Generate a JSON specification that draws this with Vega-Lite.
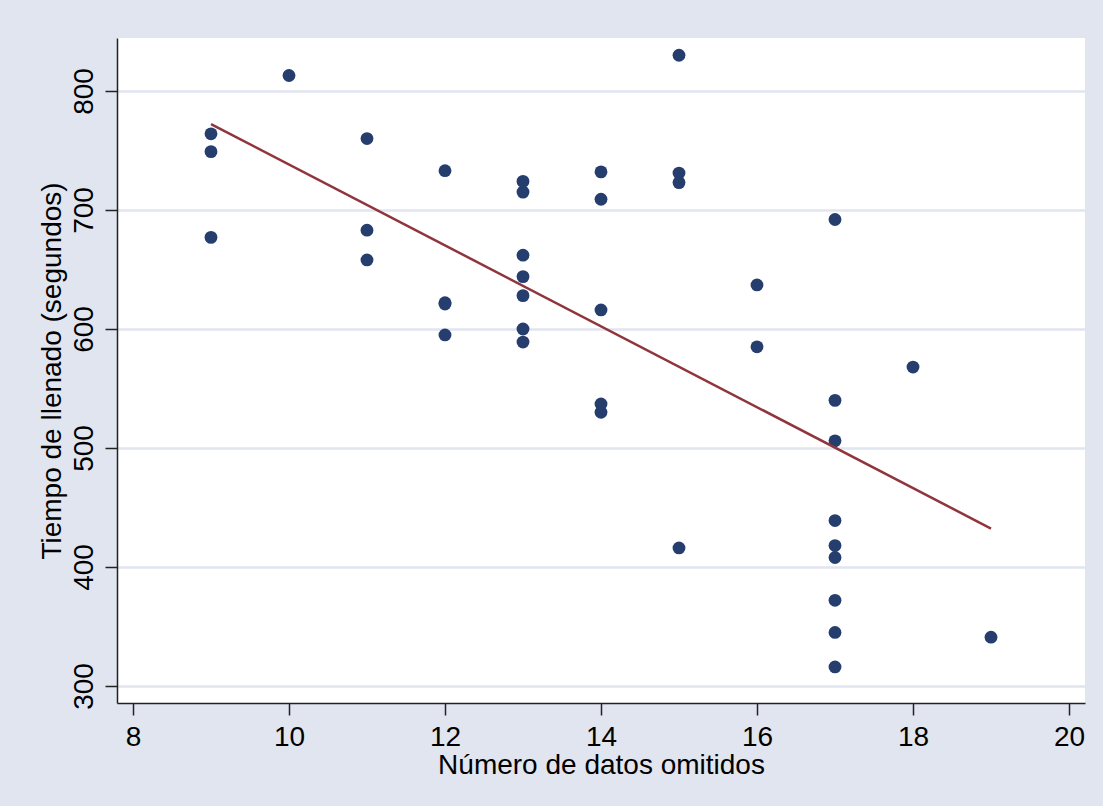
{
  "$schema": "https://vega.github.io/schema/vega-lite/v6.json",
  "width": 968,
  "height": 665,
  "autosize": {"type": "none"},
  "padding": {"left": 117, "top": 38, "right": 18, "bottom": 103},
  "background": "#e1e5ef",
  "view": {"fill": "white", "stroke": null},
  "datasets": {
    "puntos": [
      {"omitidos": 9, "tiempo": 764}, {"omitidos": 9, "tiempo": 749}, {"omitidos": 9, "tiempo": 677},
      {"omitidos": 10, "tiempo": 813},
      {"omitidos": 11, "tiempo": 760}, {"omitidos": 11, "tiempo": 683}, {"omitidos": 11, "tiempo": 658},
      {"omitidos": 12, "tiempo": 733}, {"omitidos": 12, "tiempo": 622}, {"omitidos": 12, "tiempo": 621}, {"omitidos": 12, "tiempo": 595},
      {"omitidos": 13, "tiempo": 724}, {"omitidos": 13, "tiempo": 715}, {"omitidos": 13, "tiempo": 662}, {"omitidos": 13, "tiempo": 644}, {"omitidos": 13, "tiempo": 628}, {"omitidos": 13, "tiempo": 600}, {"omitidos": 13, "tiempo": 589},
      {"omitidos": 14, "tiempo": 732}, {"omitidos": 14, "tiempo": 709}, {"omitidos": 14, "tiempo": 616}, {"omitidos": 14, "tiempo": 537}, {"omitidos": 14, "tiempo": 530},
      {"omitidos": 15, "tiempo": 830}, {"omitidos": 15, "tiempo": 731}, {"omitidos": 15, "tiempo": 723}, {"omitidos": 15, "tiempo": 416},
      {"omitidos": 16, "tiempo": 637}, {"omitidos": 16, "tiempo": 585},
      {"omitidos": 17, "tiempo": 692}, {"omitidos": 17, "tiempo": 540}, {"omitidos": 17, "tiempo": 506}, {"omitidos": 17, "tiempo": 439}, {"omitidos": 17, "tiempo": 418}, {"omitidos": 17, "tiempo": 408}, {"omitidos": 17, "tiempo": 372}, {"omitidos": 17, "tiempo": 345}, {"omitidos": 17, "tiempo": 316},
      {"omitidos": 18, "tiempo": 568},
      {"omitidos": 19, "tiempo": 341}
    ],
    "ajuste": [
      {"omitidos": 9, "tiempo": 772.2},
      {"omitidos": 19, "tiempo": 432.3}
    ]
  },
  "layer": [
    {
      "data": {"name": "puntos"},
      "mark": {"type": "point", "filled": true, "shape": "circle", "size": 165, "color": "#263e6e", "opacity": 1},
      "encoding": {
        "x": {
          "field": "omitidos", "type": "quantitative",
          "scale": {"domain": [7.795, 20.205], "nice": false, "zero": false},
          "axis": {
            "values": [8, 10, 12, 14, 16, 18, 20],
            "format": "d",
            "title": "Número de datos omitidos",
            "grid": false,
            "tickSize": 12, "tickWidth": 1.5, "tickColor": "#222",
            "domainColor": "#222", "domainWidth": 1.5,
            "labelPadding": 8, "labelFontSize": 28, "labelFont": "Liberation Sans", "labelColor": "black",
            "labelOverlap": false, "labelFlush": false,
            "titleFont": "Liberation Sans", "titleFontSize": 28, "titleFontWeight": "normal", "titleColor": "black",
            "titlePadding": 0
          }
        },
        "y": {
          "field": "tiempo", "type": "quantitative",
          "scale": {"domain": [285.7, 844.5], "nice": false, "zero": false},
          "axis": {
            "values": [300, 400, 500, 600, 700, 800],
            "format": "d",
            "title": "Tiempo de llenado (segundos)",
            "grid": true, "gridColor": "#e1e5ef", "gridWidth": 2.5,
            "tickSize": 12, "tickWidth": 1.5, "tickColor": "#222",
            "domainColor": "#222", "domainWidth": 1.5,
            "labelAngle": 270, "labelAlign": "center", "labelBaseline": "bottom",
            "labelPadding": 7, "labelFontSize": 28, "labelFont": "Liberation Sans", "labelColor": "black",
            "labelOverlap": false, "labelFlush": false,
            "titleFont": "Liberation Sans", "titleFontSize": 28, "titleFontWeight": "normal", "titleColor": "black",
            "titlePadding": 4
          }
        }
      }
    },
    {
      "data": {"name": "ajuste"},
      "mark": {"type": "line", "color": "#90353b", "strokeWidth": 2.5},
      "encoding": {
        "x": {"field": "omitidos", "type": "quantitative", "scale": {"domain": [7.795, 20.205], "nice": false, "zero": false}},
        "y": {"field": "tiempo", "type": "quantitative", "scale": {"domain": [285.7, 844.5], "nice": false, "zero": false}}
      }
    }
  ]
}
